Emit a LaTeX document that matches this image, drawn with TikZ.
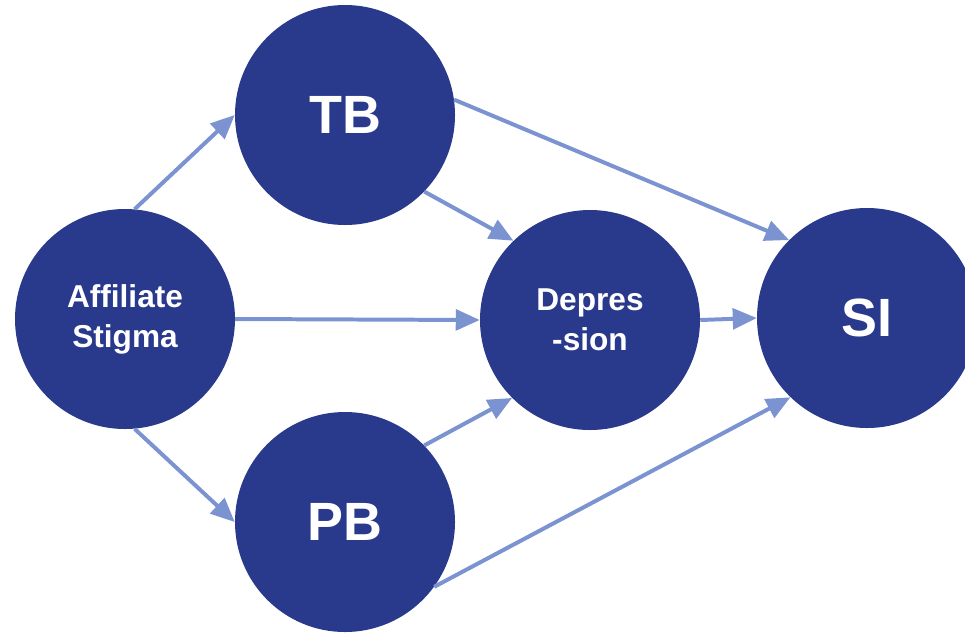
\documentclass[tikz,border=0pt]{standalone}
\usepackage{fontspec}
\setmainfont{Liberation Sans}
\usetikzlibrary{arrows.meta}
\definecolor{circfill}{HTML}{29398C}
\definecolor{linkblue}{HTML}{7B93D0}
\begin{document}
\begin{tikzpicture}[x=0.03cm,y=-0.03cm,
  varnode/.style={circle,fill=circfill,draw=none,minimum size=6.6cm,inner sep=0pt,
    text=white,font=\bfseries\fontsize{27}{34}\selectfont,align=center},
  bignode/.style={varnode,font=\bfseries\fontsize{46}{50}\selectfont},
  link/.style={draw=linkblue,line width=3.4pt,
    -{Triangle[length=0.72cm,width=0.62cm]}}]
\useasboundingbox (0,0) rectangle (965,635);
\node[varnode] (aff) at (125,319) {Affiliate\\Stigma};
\node[bignode] (tb) at (345,115) {TB};
\node[bignode] (pb) at (345,522) {PB};
\node[varnode] (dep) at (590,320) {Depres\\-sion};
\node[bignode] (si) at (867,318) {SI};
\draw[link] (aff.85) -- (tb.180);
\draw[link] (aff.-85) -- (pb.180);
\draw[link] (aff.east) -- (dep.west);
\draw[link] (tb.-44) -- (dep.134);
\draw[link] (pb.44) -- (dep.225);
\draw[link] (tb.8) -- (si.135);
\draw[link] (pb.-36) -- (si.226);
\draw[link] (dep.east) -- (si.west);
\end{tikzpicture}
\end{document}
